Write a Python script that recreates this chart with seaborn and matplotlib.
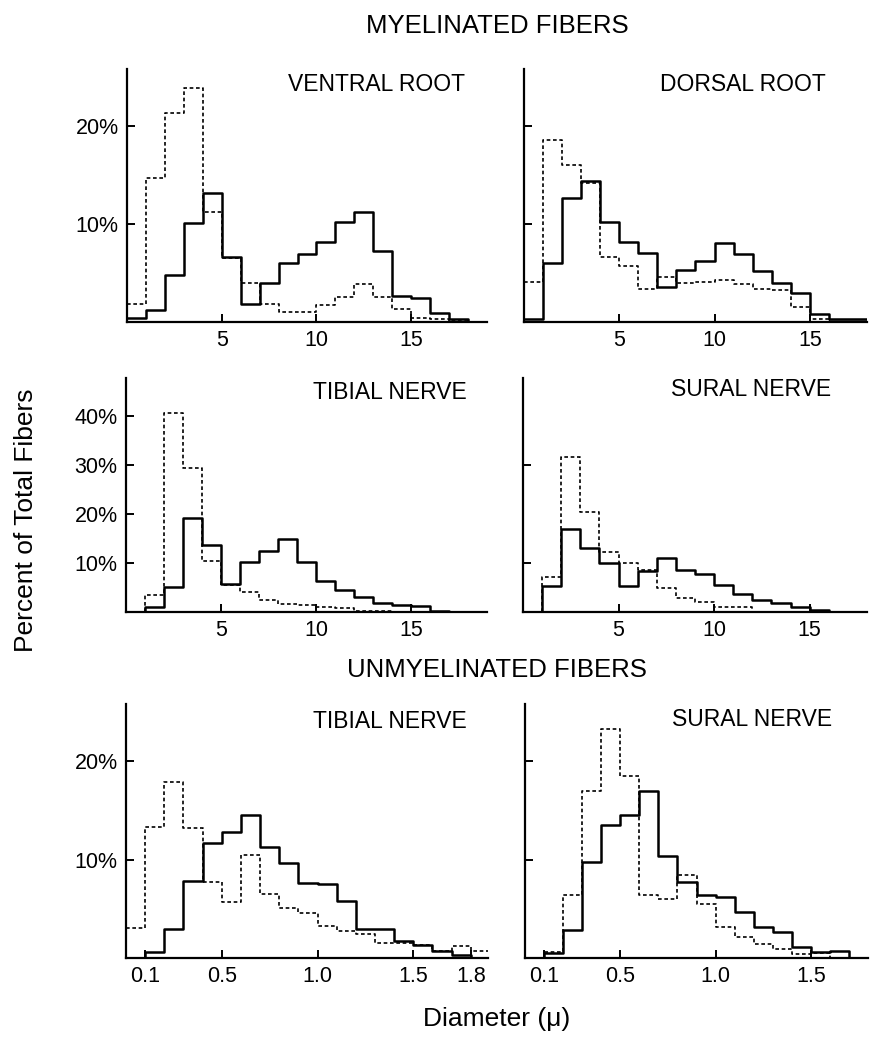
import numpy as np
import matplotlib
matplotlib.use("Agg")
import matplotlib.pyplot as plt
import seaborn as sns

# bin edges (diameter, micron)
myel_edges_19 = list(range(0, 20))      # 0..19
myel_edges_18 = list(range(0, 19))      # 0..18
unmyel_edges_19 = [round(0.1 * k, 1) for k in range(0, 20)]   # 0..1.9
unmyel_edges_18 = [round(0.1 * k, 1) for k in range(0, 19)]   # 0..1.8

# myelinated, percent per 1 micron bin
ventral_solid = [0.4, 1.2, 4.8, 10.1, 13.2, 6.6, 1.8, 4.0, 6.0, 6.9, 8.2, 10.2, 11.2, 7.2, 2.65, 2.4, 0.95, 0.27, 0.0]
ventral_dash = [1.8, 14.7, 21.3, 23.9, 11.2, 6.5, 4.0, 1.8, 1.05, 1.05, 1.75, 2.5, 3.9, 2.5, 1.3, 0.45, 0.3, 0.15, 0.0]

dorsal_solid = [0.3, 6.0, 12.6, 14.4, 10.2, 8.2, 7.0, 3.6, 5.3, 6.2, 8.1, 6.9, 5.2, 4.0, 3.0, 0.8, 0.35, 0.35]
dorsal_dash = [4.1, 18.6, 16.0, 14.2, 6.6, 5.7, 3.4, 4.6, 4.0, 4.1, 4.3, 3.9, 3.4, 3.25, 1.55, 0.27, 0.0, 0.0]
dorsal_tail = [0.35]  # grey filled strip, 16-18

tibial_m_solid = [0.0, 1.1, 5.2, 19.2, 13.7, 5.7, 10.2, 12.4, 14.9, 10.3, 6.3, 4.4, 3.0, 1.8, 1.5, 1.3, 0.2, 0.1, 0.0]
tibial_m_dash = [0.0, 3.4, 40.6, 29.4, 10.5, 5.6, 4.1, 2.4, 1.6, 1.4, 1.0, 0.8, 0.3, 0.2, 0.1, 0.1, 0.0, 0.0, 0.0]

sural_m_solid = [0.0, 5.3, 16.9, 13.1, 10.1, 5.3, 8.4, 11.0, 8.6, 7.7, 5.6, 3.7, 2.4, 1.8, 1.1, 0.4, 0.1, 0.1]
sural_m_dash = [0.0, 7.2, 31.6, 20.4, 12.2, 10.0, 8.6, 4.9, 2.9, 2.1, 1.0, 1.0, 0.0, 0.0, 0.0, 0.0, 0.0, 0.0]

# unmyelinated, percent per 0.1 micron bin
tibial_u_solid = [0.0, 0.6, 2.9, 7.8, 11.7, 12.8, 14.5, 11.3, 9.6, 7.6, 7.5, 5.8, 2.9, 2.9, 1.7, 1.3, 0.75, 0.3, 0.0]
tibial_u_dash = [3.0, 13.3, 17.9, 13.2, 7.7, 5.7, 10.5, 6.5, 5.1, 4.6, 3.3, 2.7, 2.4, 1.5, 1.5, 1.3, 0.75, 1.2, 0.7]

sural_u_solid = [0.0, 0.5, 2.8, 9.8, 13.5, 14.5, 17.0, 10.4, 7.7, 6.4, 6.2, 4.7, 3.1, 2.6, 1.1, 0.6, 0.7, 0.0]
sural_u_dash = [0.0, 0.6, 6.4, 17.0, 23.3, 18.5, 6.4, 6.0, 8.4, 5.5, 3.1, 2.1, 1.45, 0.95, 0.4, 0.55, 0.0, 0.0]

sns.set_style("ticks")
plt.rcParams['font.family'] = ['Liberation Sans', 'DejaVu Sans']
for k in ['text.color', 'axes.labelcolor', 'xtick.color', 'ytick.color', 'axes.edgecolor']:
    plt.rcParams[k] = 'black'

W, H = 878, 1039
fig = plt.figure(figsize=(W / 100, H / 100), dpi=100)


def rect(x0, y0, x1, y1):
    # pixel box -> figure fraction
    return [x0 / W, 1 - y1 / H, (x1 - x0) / W, (y1 - y0) / H]


def step_hist(ax, edges, solid, dashed):
    centers = [(a + b) / 2 for a, b in zip(edges[:-1], edges[1:])]
    sns.histplot(x=centers, weights=dashed, bins=edges, element="step", fill=False,
                 color="black", linewidth=1.2, linestyle=(0, (2.2, 1.6)), ax=ax)
    sns.histplot(x=centers, weights=solid, bins=edges, element="step", fill=False,
                 color="black", linewidth=1.8, ax=ax)


def style(ax, xlim, ylim, xticks, xlabels, yticks, ylabels, title, tx, ty):
    ax.set_xlim(*xlim)
    ax.set_ylim(*ylim)
    ax.set_xticks(xticks)
    ax.set_xticklabels(xlabels)
    ax.set_yticks(yticks)
    ax.set_yticklabels(ylabels)
    ax.set_xlabel("")
    ax.set_ylabel("")
    sns.despine(ax=ax)
    for s in ["left", "bottom"]:
        ax.spines[s].set_linewidth(1.6)
    ax.tick_params(direction="in", length=6, width=1.4, labelsize=15.5, pad=6)
    ax.text(tx, ty, title, transform=ax.transAxes, ha="right", va="center", fontsize=16.5)


ax1 = fig.add_axes(rect(127, 69, 487, 322))
step_hist(ax1, myel_edges_19, ventral_solid, ventral_dash)
style(ax1, (0, 19), (0, 25.8), [5, 10, 15], ["5", "10", "15"], [10, 20], ["10%", "20%"],
      "VENTRAL ROOT", 0.94, 0.937)

ax2 = fig.add_axes(rect(524, 69, 867, 322))
sns.histplot(x=[17], weights=dorsal_tail, bins=[16, 18], element="bars", color="0.6",
             edgecolor="black", linewidth=0.8, alpha=1, ax=ax2)
step_hist(ax2, myel_edges_18, dorsal_solid, dorsal_dash)
style(ax2, (0, 18), (0, 25.8), [5, 10, 15], ["5", "10", "15"], [10, 20], ["", ""],
      "DORSAL ROOT", 0.88, 0.937)

ax3 = fig.add_axes(rect(126, 378, 487, 612))
step_hist(ax3, myel_edges_19, tibial_m_solid, tibial_m_dash)
style(ax3, (0, 19), (0, 47.8), [5, 10, 15], ["5", "10", "15"], [10, 20, 30, 40],
      ["10%", "20%", "30%", "40%"], "TIBIAL NERVE", 0.945, 0.936)

ax4 = fig.add_axes(rect(523, 378, 867, 612))
step_hist(ax4, myel_edges_18, sural_m_solid, sural_m_dash)
style(ax4, (0, 18), (0, 47.8), [5, 10, 15], ["5", "10", "15"], [10, 30], ["", ""],
      "SURAL NERVE", 0.895, 0.95)

ax5 = fig.add_axes(rect(126, 704, 488, 958))
step_hist(ax5, unmyel_edges_19, tibial_u_solid, tibial_u_dash)
style(ax5, (0, 1.89), (0, 25.8), [0.1, 0.5, 1.0, 1.5, 1.8], ["0.1", "0.5", "1.0", "1.5", "1.8"],
      [10, 20], ["10%", "20%"], "TIBIAL NERVE", 0.94, 0.93)

ax6 = fig.add_axes(rect(525, 704, 868, 958))
step_hist(ax6, unmyel_edges_18, sural_u_solid, sural_u_dash)
style(ax6, (0, 1.8), (0, 25.8), [0.1, 0.5, 1.0, 1.5], ["0.1", "0.5", "1.0", "1.5"],
      [10, 20], ["", ""], "SURAL NERVE", 0.895, 0.94)

fig.text(497 / W, 1 - 26 / H, "MYELINATED FIBERS", ha="center", va="center", fontsize=18.5)
fig.text(497 / W, 1 - 670 / H, "UNMYELINATED FIBERS", ha="center", va="center", fontsize=18.5)
fig.text(26 / W, 1 - 520 / H, "Percent of Total Fibers", ha="center", va="center",
         rotation=90, fontsize=19)
fig.text(497 / W, 1 - 1019 / H, "Diameter (\u03bc)", ha="center", va="center", fontsize=19)

fig.savefig("out.png", dpi=100, facecolor="white")
